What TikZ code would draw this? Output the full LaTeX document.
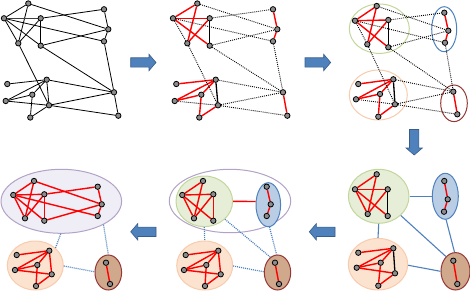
\documentclass[tikz,border=0pt]{standalone}
\usetikzlibrary{shapes.geometric}
\pgfdeclarelayer{ell}
\pgfdeclarelayer{edges}
\pgfsetlayers{ell,edges,main}
\definecolor{redE}{HTML}{FF0000}
\definecolor{linkblue}{HTML}{4F81BD}
\definecolor{arrowfill}{HTML}{4F81BD}
\definecolor{arrowline}{HTML}{385D8A}
\definecolor{grnline}{HTML}{C3D69B}
\definecolor{grnfill}{HTML}{E6EED8}
\definecolor{bluline}{HTML}{4F81BD}
\definecolor{blufill}{HTML}{B9CDE5}
\definecolor{pchline}{HTML}{F8CBAD}
\definecolor{pchfill}{HTML}{FCE3D0}
\definecolor{brnline}{HTML}{953735}
\definecolor{brnfill}{HTML}{D0A88C}
\definecolor{purline}{HTML}{B3A2C7}
\definecolor{purfill}{HTML}{EFEDF5}
\definecolor{vtxfill}{HTML}{8C8C8C}
\newcommand\EdgInter{A/G,C/F,B/H,E/G,H/O,E/O,D/M,J/O,M/O,M/P}
\newcommand\EdgAll{A/B,A/D,B/C,B/D,B/E,C/D,C/E,F/G,G/H,I/J,J/L,J/K,K/L,K/N,N/M,L/M,J/M,O/P}
\newcommand\EdgMatch{A/B,A/D,B/C,B/E,C/D,F/G,G/H,I/J,J/L,J/K,K/L,K/N,N/M,O/P}
\newcommand\EdgMatchB{A/B,A/D,B/C,B/D,B/E,C/D,F/G,G/H,I/J,J/L,J/K,K/L,K/N,N/M,L/M,O/P}
\tikzset{
  vtx/.style={circle, draw=black, line width=0.8pt, fill=vtxfill, minimum size=5.4pt, inner sep=0pt},
  plain/.style={draw=black, line width=0.8pt},
  heavy/.style={draw=black, line width=1.3pt},
  matched/.style={draw=redE, line width=1.4pt},
  dotE/.style={draw=black, line width=0.9pt, dash pattern=on 0.9pt off 1.1pt},
  blink/.style={draw=linkblue, line width=1.1pt},
  bdot/.style={draw=linkblue, line width=1.2pt, dash pattern=on 1pt off 1pt},
  clus/.style={ellipse, inner sep=0pt, line width=1pt},
  blockarrow/.style={fill=arrowfill, draw=arrowline, line width=0.6pt},
}
\begin{document}
\begin{tikzpicture}[x=1pt,y=-1pt]
\useasboundingbox (0,0) rectangle (470,291);

% ---------- vertices ----------
% panel 1
\foreach \n/\x/\y in {A/28.3/3.5,B/4/18.3,C/40.7/18.3,D/18.3/43.3,E/40.7/45.7,F/104/9.3,G/108.3/29.3,H/104/41.3,I/7.3/84,J/46.7/79.7,K/32.3/94.7,L/5.7/101,M/49/105.3,N/30.3/117.5,O/114/92.3,P/118.3/115.7}
  \node[vtx] (a\n) at (\x,\y) {};
% panel 2
\foreach \n/\x/\y in {A/28.3/3.5,B/4/18.3,C/40.7/18.3,D/18.3/43.3,E/40.7/45.7,F/104/9.3,G/108.3/29.3,H/104/41.3,I/7.3/84,J/46.7/79.7,K/32.3/94.7,L/5.7/101,M/49/105.3,N/30.3/117.5,O/114/92.3,P/118.3/115.7}
  \node[vtx] (b\n) at ({\x+169},\y) {};
% panel 3
\foreach \n/\x/\y in {A/376.7/6,B/355/20.7,C/388.3/20,D/367.3/44.3,E/388.3/47.3,F/444.3/12.7,G/448.3/30.7,H/445/42.7,I/358.3/84,J/393.3/79.3,K/380/94,L/356/99.3,M/395/104.3,N/378.3/116.7,O/453.3/91.7,P/457.3/114.3}
  \node[vtx] (c\n) at (\x,\y) {};
% panel 4
\foreach \n/\x/\y in {A/376.7/174.3,B/355/189.3,C/387.7/189.3,D/367.7/214,E/387.7/216,F/444.3/181,G/447.7/199.3,H/444/211.7,I/358.3/252.7,J/393.3/248.3,K/380.7/262.7,L/356.7/267.7,M/395/273.3,N/378.3/285.7,O/453.3/260.7,P/457.3/284}
  \node[vtx] (d\n) at (\x,\y) {};
% panel 5
\foreach \n/\x/\y in {A/34/181,B/13.3/195,C/44.3/194.3,D/25/218.3,E/44.3/220.7,F/97.7/186.7,G/101.7/204.3,H/97.7/216,I/16.7/255,J/49.3/250.7,K/37.3/265,L/15/270,M/51.7/274.3,N/36/286,O/106/262.7,P/110/284}
  \node[vtx] (e\n) at ({\x+169},\y) {};
% panel 6
\foreach \n/\x/\y in {A/34/181,B/13.3/195,C/44.3/194.3,D/25/218.3,E/44.3/220.7,F/97.7/186.7,G/101.7/204.3,H/97.7/216,I/16.7/255,J/49.3/250.7,K/37.3/265,L/15/270,M/51.7/274.3,N/36/286,O/106/262.7,P/110/284}
  \node[vtx] (f\n) at (\x,\y) {};

% ---------- cluster ellipses ----------
\begin{pgfonlayer}{ell}
  % panel 3
  \node[clus, draw=grnline, minimum width=60pt, minimum height=49.4pt] (g3) at (379.3,28.7) {};
  \node[clus, draw=bluline, minimum width=25pt, minimum height=45pt] (b3) at (444.2,29.2) {};
  \node[clus, draw=pchline, minimum width=58pt, minimum height=50pt] (p3) at (378.3,95) {};
  \node[clus, draw=brnline, minimum width=26.6pt, minimum height=36.6pt] (r3) at (454,103.3) {};
  % panel 4
  \node[clus, draw=grnline, fill=grnfill, minimum width=60.6pt, minimum height=54pt] (g4) at (378.7,196.3) {};
  \node[clus, draw=bluline, fill=blufill, minimum width=26pt, minimum height=46pt] (b4) at (445.3,196.3) {};
  \node[clus, draw=pchline, fill=pchfill, minimum width=59.4pt, minimum height=51.6pt] (p4) at (378,264.2) {};
  \node[clus, draw=brnline, fill=brnfill, minimum width=29pt, minimum height=37.4pt] (r4) at (455.5,271.3) {};
  % panel 5
  \node[clus, draw=purline, minimum width=121.4pt, minimum height=63.4pt] (u5) at (230,201) {};
  \node[clus, draw=grnline, fill=grnfill, minimum width=56.6pt, minimum height=50.6pt] (g5) at (204.3,201.3) {};
  \node[clus, draw=bluline, fill=blufill, minimum width=24.6pt, minimum height=44pt] (b5) at (268.3,204.7) {};
  \node[clus, draw=pchline, fill=pchfill, minimum width=56pt, minimum height=49pt] (p5) at (204.7,265.5) {};
  \node[clus, draw=brnline, fill=brnfill, minimum width=26.4pt, minimum height=35pt] (r5) at (277.5,272.5) {};
  % panel 6
  \node[clus, draw=purline, fill=purfill, minimum width=120.6pt, minimum height=64pt] (u6) at (61.3,201.3) {};
  \node[clus, draw=pchline, fill=pchfill, minimum width=56pt, minimum height=49pt] (p6) at (35.3,265.5) {};
  \node[clus, draw=brnline, fill=brnfill, minimum width=26.6pt, minimum height=35pt] (r6) at (108.3,272.5) {};
\end{pgfonlayer}

% ---------- edges ----------
\begin{pgfonlayer}{edges}
  % panel 1: the original graph
  \foreach \u/\v in \EdgAll \draw[plain] (a\u) -- (a\v);
  \foreach \u/\v in \EdgInter \draw[plain] (a\u) -- (a\v);
  \draw[draw=black!75, line width=1.4pt] (aB) -- (aC);
  % panel 2
  \foreach \u/\v in \EdgMatch \draw[matched] (b\u) -- (b\v);
  \foreach \u/\v in {C/E,J/M} \draw[heavy] (b\u) -- (b\v);
  \foreach \u/\v in {B/D,L/M} \draw[dotE] (b\u) -- (b\v);
  \foreach \u/\v in \EdgInter \draw[dotE] (b\u) -- (b\v);
  % panel 3
  \foreach \u/\v in \EdgMatch \draw[matched] (c\u) -- (c\v);
  \foreach \u/\v in {C/E,J/M} \draw[heavy] (c\u) -- (c\v);
  \foreach \u/\v in {B/D,L/M} \draw[dotE] (c\u) -- (c\v);
  \foreach \u/\v in \EdgInter \draw[dotE] (c\u) -- (c\v);
  % panel 4
  \foreach \u/\v in \EdgMatchB \draw[matched] (d\u) -- (d\v);
  \foreach \u/\v in {C/E,J/M} \draw[heavy] (d\u) -- (d\v);
  \draw[blink] (g4.0) -- (b4.180);
  \draw[blink] (g4.-90) -- (p4.90);
  \draw[blink] (g4.-41) -- (r4.123);
  \draw[blink] (b4.-88) -- (r4.93);
  \draw[blink] (p4.-2) -- (r4.180);
  % panel 5
  \foreach \u/\v in \EdgAll \draw[matched] (e\u) -- (e\v);
  \draw[matched] (g5.0) -- (b5.166);
  \draw[bdot] (g5.-90) -- (p5.90);
  \draw[bdot] (g5.-41) -- (r5.115);
  \draw[bdot] (b5.-87) -- (r5.93);
  \draw[bdot] (p5.-1) -- (r5.177);
  % panel 6
  \foreach \u/\v in \EdgAll \draw[matched] (f\u) -- (f\v);
  \foreach \u/\v in {A/G,C/F,B/H,E/G} \draw[matched] (f\u) -- (f\v);
  \draw[bdot] (u6.-91) -- (p6.41);
  \draw[bdot] (u6.-29.4) -- (r6.90);
  \draw[bdot] (p6.-1) -- (r6.177);
\end{pgfonlayer}

% ---------- block arrows ----------
\filldraw[blockarrow] (130.7,57.8) -- (149,57.8) -- (149,54.3) -- (156,62.5) -- (149,70.7) -- (149,67.2) -- (130.7,67.2) -- cycle;
\filldraw[blockarrow] (305,57.8) -- (323.7,57.8) -- (323.7,54.3) -- (330.7,62.5) -- (323.7,70.7) -- (323.7,67.2) -- (305,67.2) -- cycle;
\filldraw[blockarrow] (409.5,129.5) -- (409.5,148) -- (406,148) -- (414.2,155) -- (422.4,148) -- (418.9,148) -- (418.9,129.5) -- cycle;
\filldraw[blockarrow] (335,227.1) -- (316.3,227.1) -- (316.3,223.6) -- (309.3,231.8) -- (316.3,240) -- (316.3,236.5) -- (335,236.5) -- cycle;
\filldraw[blockarrow] (156,227.1) -- (137.7,227.1) -- (137.7,223.6) -- (130.7,231.8) -- (137.7,240) -- (137.7,236.5) -- (156,236.5) -- cycle;
\end{tikzpicture}
\end{document}
